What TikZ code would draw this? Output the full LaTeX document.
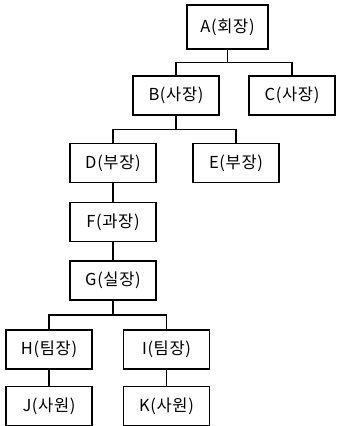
\documentclass[tikz,border=0pt]{standalone}
\usepackage{fontspec}
\newfontfamily\kor[LetterSpace=4]{Noto Sans CJK KR}
\usetikzlibrary{calc}

\tikzstyle{box}=[draw,line width=1.3pt,rectangle,minimum width=86pt,minimum height=39pt,inner sep=0pt,font=\kor\fontsize{16.5}{19}\selectfont]
\tikzstyle{edge} = [draw,line width=1.5pt,-]

\begin{document}
\begin{tikzpicture}[x=1pt,y=1pt]
    \useasboundingbox (0,0) rectangle (338,-426);
    % boxes of the chart
    \node[box,minimum width=81pt,minimum height=44pt] (A) at (227.5,-27) {A(회장)};
    \foreach \pos/\name/\txt in {{(176,-95.5)/B/B(사장)}, {(292,-95.5)/C/C(사장)},
        {(113,-163)/D/D(부장)}, {(236,-163)/E/E(부장)}, {(113,-222)/F/F(과장)},
        {(113,-280.5)/G/G(실장)}, {(49,-349.5)/H/H(팀장)}, {(166.5,-349.5)/I/I(팀장)},
        {(49,-406)/J/J(사원)}, {(166.5,-406)/K/K(사원)}}
        \node[box] (\name) at \pos {\txt};
    % connect each box with the one above it
    \foreach \source/\dest in {A/B,A/C,B/D,B/E,D/F,F/G,G/H,G/I,H/J,I/K}
        \path[edge] (\source.south) |- ($(\source.south)!.5!(\dest.north)$) -| (\dest.north);
\end{tikzpicture}
\end{document}
